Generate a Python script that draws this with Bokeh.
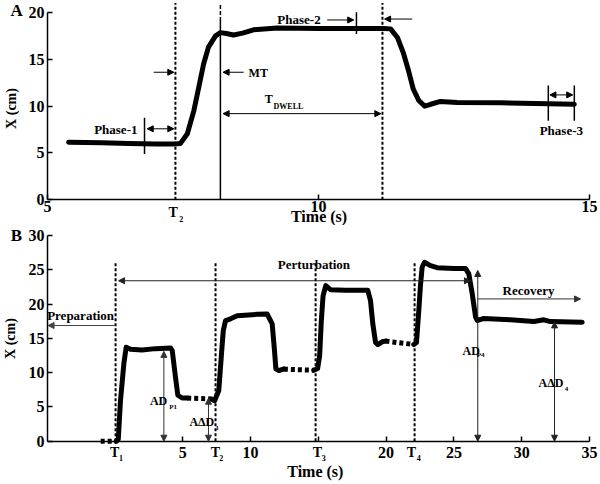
import math
from bokeh.plotting import figure
from bokeh.models import Range1d, FixedTicker, Label, Arrow, NormalHead
from bokeh.layouts import column
from bokeh.embed import file_html
from bokeh.resources import INLINE

FONT = "Liberation Serif"

# ---------------- Panel A data ----------------
a_time = [5.39, 6.0, 6.5, 7.0, 7.35, 7.45, 7.58, 7.7, 7.79, 7.88, 7.97, 8.1, 8.19,
          8.3, 8.43, 8.6, 8.8, 9.24, 10.0, 10.7, 11.2, 11.33, 11.46, 11.57, 11.66,
          11.75, 11.85, 11.96, 12.07, 12.25, 12.56, 13.36, 14.24, 14.72]
a_pos = [6.15, 6.1, 6.0, 5.95, 5.95, 6.0, 7.05, 9.5, 12.0, 14.5, 16.3, 17.5, 17.85,
         17.75, 17.6, 17.8, 18.15, 18.35, 18.3, 18.3, 18.3, 18.25, 17.3, 15.6, 13.8,
         11.8, 10.6, 10.0, 10.2, 10.5, 10.4, 10.35, 10.25, 10.2]
a_T2 = 7.36
a_MT = 8.19
a_dwell_end = 11.18
a_xticks = [5, 10, 15]
a_yticks = [0, 5, 10, 15, 20]

# ---------------- Panel B data ----------------
b_dot0_t = [-1.05, 0.1]
b_dot0_x = [0.0, 0.0]
b_seg1_t = [0.1, 0.25, 0.41, 0.66, 0.83, 1.15, 2.0, 3.0, 4.1, 4.23, 4.47, 4.64, 4.96, 5.33]
b_seg1_x = [0.0, 0.3, 5.9, 11.3, 13.7, 13.4, 13.3, 13.5, 13.6, 13.2, 9.3, 6.7, 6.3, 6.3]
b_dot1_t = [5.33, 7.18]
b_dot1_x = [6.3, 6.15]
b_seg2_t = [7.18, 7.35, 7.66, 7.84, 7.99, 8.16, 8.53, 9.02, 10.49, 11.23, 11.6, 11.77,
            11.87, 12.09, 12.46]
b_seg2_x = [6.1, 5.9, 7.4, 12.2, 16.1, 17.6, 17.85, 18.3, 18.5, 18.55, 17.1, 13.2,
            10.55, 10.3, 10.55]
b_dot2_t = [12.46, 14.67]
b_dot2_x = [10.5, 10.35]
b_seg3_t = [14.67, 14.95, 15.1, 15.22, 15.35, 15.55, 15.9, 17.0, 18.65, 18.85, 19.02,
            19.22, 19.39, 19.71, 19.95]
b_seg3_x = [10.35, 10.6, 12.5, 17.5, 21.2, 22.7, 22.1, 22.0, 22.0, 20.5, 17.1,
            14.4, 14.1, 14.5, 14.6]
b_dot3_t = [19.95, 22.04]
b_dot3_x = [14.6, 14.1]
b_seg4_t = [22.04, 22.24, 22.41, 22.54, 22.66, 22.83, 23.27, 23.77, 25.0, 25.86, 26.1,
            26.35, 26.6, 26.72, 27.2, 29.17, 30.9, 31.63, 32.12, 34.46]
b_seg4_x = [14.1, 14.4, 19.05, 22.9, 25.4, 26.1, 25.6, 25.3, 25.2, 25.2, 24.4,
            21.5, 18.1, 17.6, 17.9, 17.7, 17.45, 17.7, 17.45, 17.35]
b_T = [0.05, 7.42, 14.8, 22.1]
b_T_names = ["1", "2", "3", "4"]
b_xstart = -4.97
b_xticks = [5, 10, 15, 20, 25, 30, 35]
b_yticks = [0, 5, 10, 15, 20, 25, 30]
b_ADP1 = 13.1
b_AdD1 = 6.27
b_ADP4 = 24.9
b_AdD4 = 17.4


def style(p, xticks, yticks, xb, yb, xstand):
    p.outline_line_color = None
    p.xgrid.grid_line_color = None
    p.ygrid.grid_line_color = None
    p.xaxis.ticker = FixedTicker(ticks=xticks)
    p.yaxis.ticker = FixedTicker(ticks=yticks)
    p.xaxis.bounds = xb
    p.yaxis.bounds = yb
    p.xaxis.fixed_location = yb[0]
    p.yaxis.fixed_location = xb[0]
    for ax in p.xaxis + p.yaxis:
        ax.axis_line_width = 1.5
        ax.axis_line_color = "black"
        ax.major_tick_in = 5
        ax.major_tick_out = 0
        ax.major_tick_line_width = 1.5
        ax.minor_tick_line_color = None
        ax.major_label_text_font = FONT
        ax.major_label_text_font_style = "bold"
        ax.major_label_text_font_size = "16px"
        ax.major_label_text_color = "black"
    p.xaxis.major_label_standoff = xstand
    p.yaxis.major_label_standoff = 3


def lab(p, x, y, text, size, align="center", angle=0.0):
    p.add_layout(Label(x=x, y=y, text=text, text_font=FONT, text_font_style="bold",
                       text_font_size=f"{size}px", text_align=align,
                       text_baseline="middle", angle=angle, text_color="black"))


def arr(p, x0, y0, x1, y1, both=False, color="black"):
    head = lambda: NormalHead(size=6, fill_color=color, line_color=color, line_width=1)
    p.add_layout(Arrow(x_start=x0, y_start=y0, x_end=x1, y_end=y1, line_color=color,
                       line_width=1, end=head(), start=head() if both else None))


# ---------------- Panel A ----------------
p1 = figure(width=600, height=225, x_range=Range1d(4.1328, 15.203),
            y_range=Range1d(-2.744, 21.28), output_backend="svg",
            toolbar_location=None, min_border=0)
style(p1, a_xticks, a_yticks, (5, 15), (0, 20), 1)

p1.segment(x0=[a_T2, a_dwell_end], y0=[0, 0], x1=[a_T2, a_dwell_end], y1=[21.0, 21.0],
           line_dash="3 2", line_width=2, color="black")
p1.segment(x0=[a_MT], y0=[0], x1=[a_MT], y1=[19.1], line_width=1.5, color="black")
p1.segment(x0=[a_MT], y0=[19.1], x1=[a_MT], y1=[21.0], line_width=1.5, color="black",
           line_dash="4 2")
p1.line(a_time, a_pos, line_width=5, color="black", line_join="round", line_cap="round")
p1.segment(x0=[6.79, 10.7, 14.24, 14.72], y0=[4.9, 17.7, 8.45, 8.45],
           x1=[6.79, 10.7, 14.24, 14.72], y1=[8.75, 20.03, 12.2, 12.2],
           line_width=1.5, color="black")

arr(p1, 6.84, 7.58, a_T2 - 0.03, 7.58, both=True)
arr(p1, 6.96, 13.62, a_T2 - 0.03, 13.62)
arr(p1, 8.62, 13.62, a_MT + 0.05, 13.62)
arr(p1, a_MT + 0.05, 9.2, a_dwell_end - 0.03, 9.2, both=True)
arr(p1, 10.16, 19.2, 10.65, 19.2)
arr(p1, 11.73, 19.3, a_dwell_end + 0.04, 19.3)
arr(p1, 14.27, 11.2, 14.69, 11.2, both=True)

lab(p1, 6.66, 7.5, "Phase-1", 13, align="right")
lab(p1, 8.71, 13.55, "MT", 12, align="left")
lab(p1, 9.08, 10.76, "T", 12)
lab(p1, 9.17, 10.0, "DWELL", 8, align="left")
lab(p1, 10.04, 19.3, "Phase-2", 13, align="right")
lab(p1, 14.48, 7.4, "Phase-3", 13)
lab(p1, 7.32, -1.35, "T", 14)
lab(p1, 7.47, -2.1, "2", 8)
lab(p1, 10.01, -1.76, "Time (s)", 16)
lab(p1, 4.336, 9.75, "X (cm)", 14, angle=math.pi / 2)
lab(p1, 4.43, 20.21, "A", 17)

# ---------------- Panel B ----------------
p2 = figure(width=600, height=259, x_range=Range1d(-8.437, 35.81),
            y_range=Range1d(-6.315, 31.458), output_backend="svg",
            toolbar_location=None, min_border=0)
style(p2, b_xticks, b_yticks, (b_xstart, 35), (0, 30), 6)
p2.xaxis.major_label_overrides = {15: ""}

p2.segment(x0=b_T, y0=[0] * 4, x1=b_T, y1=[26.1] * 4, line_dash="3 2", line_width=2,
           color="black")
for tt, xx in [(b_seg1_t, b_seg1_x), (b_seg2_t, b_seg2_x), (b_seg3_t, b_seg3_x),
               (b_seg4_t, b_seg4_x)]:
    p2.line(tt, xx, line_width=5, color="black", line_join="round", line_cap="round")
for tt, xx in [(b_dot0_t, b_dot0_x), (b_dot1_t, b_dot1_x), (b_dot2_t, b_dot2_x),
               (b_dot3_t, b_dot3_x)]:
    p2.line(tt, xx, line_width=5, color="black", line_dash="4 3", line_cap="butt")

arr(p2, b_T[0], 16.87, b_xstart + 0.04, 16.87, color="#444")
arr(p2, 0.27, 23.4, 26.22, 23.4, both=True, color="#222")
arr(p2, 26.76, 20.75, 34.34, 20.75, color="#333")
arr(p2, 3.61, 0, 3.61, b_ADP1, both=True, color="#333")
arr(p2, 6.9, 0, 6.9, b_AdD1, both=True, color="#333")
arr(p2, 26.76, 0, 26.76, b_ADP4, both=True, color="#222")
arr(p2, 32.42, 0, 32.42, b_AdD4, both=True, color="#222")

lab(p2, -2.53, 18.3, "Preparation", 13)
lab(p2, 14.68, 25.75, "Perturbation", 13)
lab(p2, 30.5, 21.97, "Recovery", 13)
lab(p2, 3.22, 5.86, "AD", 12)
lab(p2, 4.3, 5.06, "P1", 7)
lab(p2, 6.41, 2.73, "A\u0394D", 12)
lab(p2, 7.54, 1.9, "1", 7)
lab(p2, 26.27, 13.17, "AD", 12)
lab(p2, 26.97, 12.5, "P4", 7)
lab(p2, 32.16, 8.5, "A\u0394D", 12)
lab(p2, 33.3, 7.6, "4", 7)
for tx, nm, sx in zip([-0.01, 7.42, 14.94, 21.86], b_T_names, [0.45, 7.84, 15.4, 22.4]):
    lab(p2, tx, -1.7, "T", 14)
    lab(p2, sx, -2.5, nm, 8)
lab(p2, 14.78, -4.42, "Time (s)", 16)
lab(p2, -7.67, 14.97, "X (cm)", 14, angle=math.pi / 2)
lab(p2, -7.26, 30.0, "B", 17)

layout = column(p1, p2)
open("out.html", "w").write(file_html(layout, INLINE))
